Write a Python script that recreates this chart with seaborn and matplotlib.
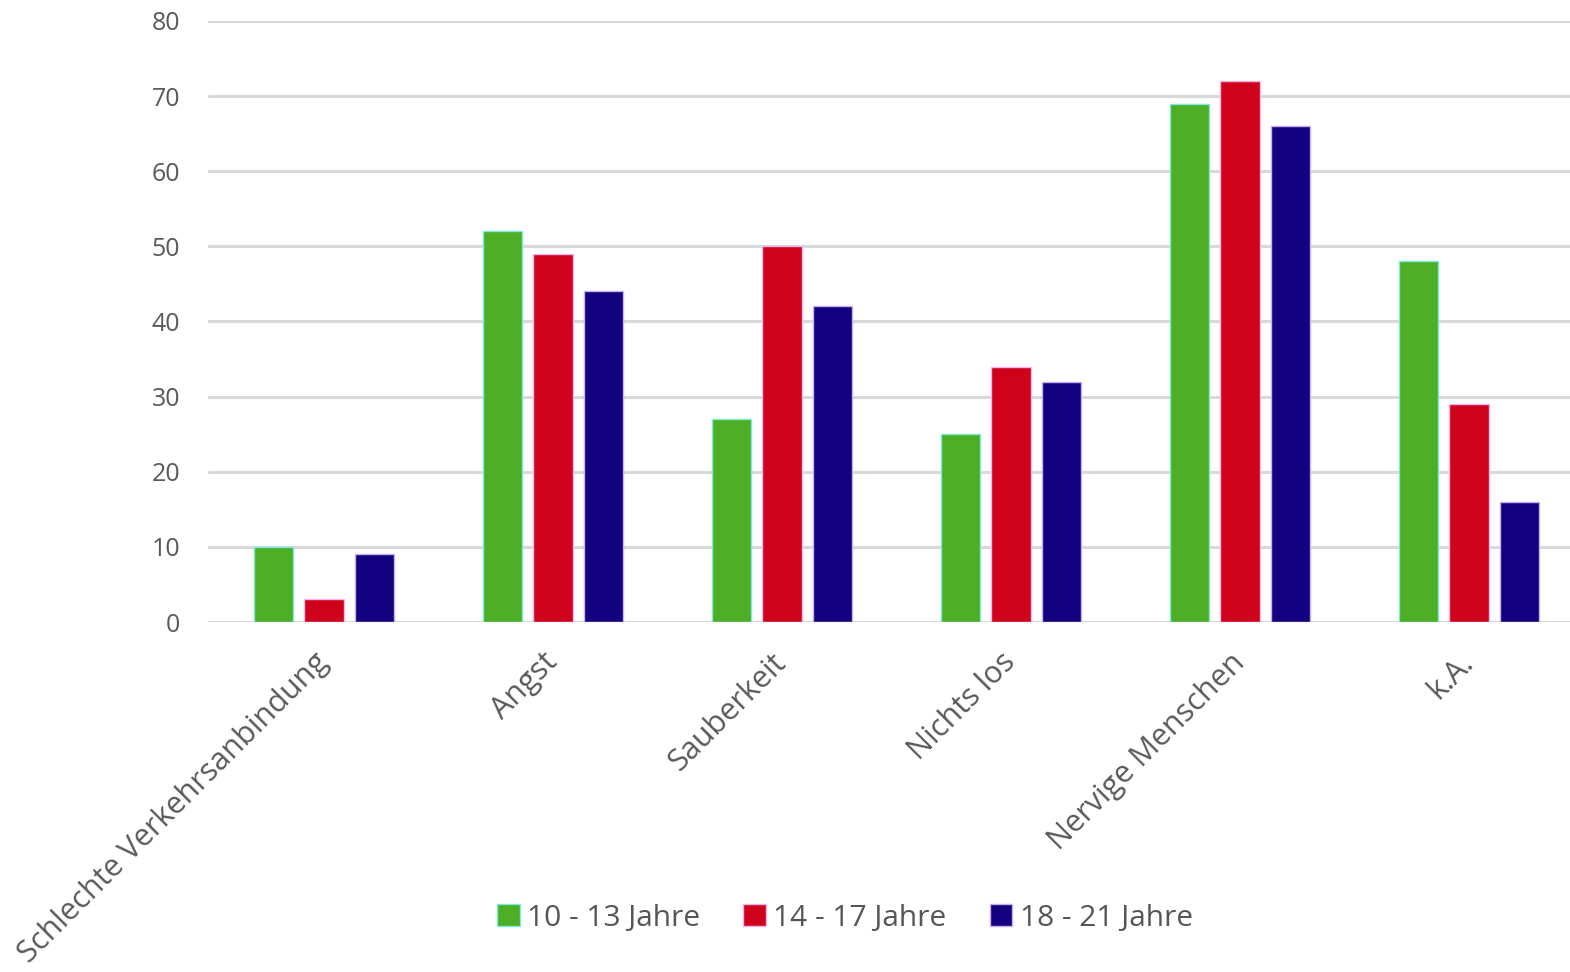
import pandas as pd
import matplotlib
matplotlib.use('Agg')
import matplotlib.pyplot as plt
import seaborn as sns

categories = ['Schlechte Verkehrsanbindung', 'Angst', 'Sauberkeit',
              'Nichts los', 'Nervige Menschen', 'k.A.']
series_names = ['10 - 13 Jahre', '14 - 17 Jahre', '18 - 21 Jahre']
werte_10_13 = [10, 52, 27, 25, 69, 48]
werte_14_17 = [3, 49, 50, 34, 72, 29]
werte_18_21 = [9, 44, 42, 32, 66, 16]
y_ticks = [0, 10, 20, 30, 40, 50, 60, 70, 80]

farben = ['#4CAE23', '#D0021B', '#13007F']
kanten = ['#7FE8E0', '#E8B8F0', '#C8B0F0']

# Daten in Long-Format bringen
df = pd.DataFrame({
    'Kategorie': categories * 3,
    'Gruppe': [series_names[0]] * 6 + [series_names[1]] * 6 + [series_names[2]] * 6,
    'Wert': werte_10_13 + werte_14_17 + werte_18_21,
})

sns.set_style('white')
plt.rcParams['font.family'] = ['Open Sans', 'DejaVu Sans']

fig = plt.figure(figsize=(15.7, 9.72), dpi=100)
ax = fig.add_axes([208 / 1570, 1 - 622 / 972, 1 - 208 / 1570, (622 - 21) / 972])

sns.barplot(data=df, x='Kategorie', y='Wert', hue='Gruppe', order=categories,
            hue_order=series_names, palette=farben, saturation=1,
            width=0.6615, gap=0.22, ax=ax, legend=False, zorder=3)

# Kantenfarben pro Serie
for i, cont in enumerate(ax.containers):
    for bar in cont:
        bar.set_edgecolor(kanten[i])
        bar.set_linewidth(1.0)

ax.set_xlim(-0.507, 5.441)
ax.set_ylim(0, 80)
ax.set_yticks(y_ticks)
ax.set_yticklabels([str(t) for t in y_ticks])
ax.grid(axis='y', color='#D9D9D9', linewidth=2.2, zorder=0)
ax.grid(axis='x', visible=False)
ax.set_axisbelow(True)
for s in ax.spines.values():
    s.set_visible(False)
ax.set_xlabel('')
ax.set_ylabel('')

ax.tick_params(axis='y', length=0, pad=20, labelsize=18, labelcolor='#595959')
ax.tick_params(axis='x', length=0, pad=26, labelsize=22, labelcolor='#595959')
plt.setp(ax.get_xticklabels(), rotation=45, ha='right', va='center',
         rotation_mode='anchor')

# Legende unten
handles = [plt.Rectangle((0, 0), 1, 1, facecolor=f, edgecolor=k, linewidth=1)
           for f, k in zip(farben, kanten)]
fig.legend(handles, series_names, loc='center', bbox_to_anchor=(845 / 1570, 1 - 918 / 972),
           ncol=3, frameon=False, fontsize=21.5, handlelength=0.75, handleheight=0.75,
           handletextpad=0.25, columnspacing=1.45, labelcolor='#555555')

fig.savefig('out.png', dpi=100)
